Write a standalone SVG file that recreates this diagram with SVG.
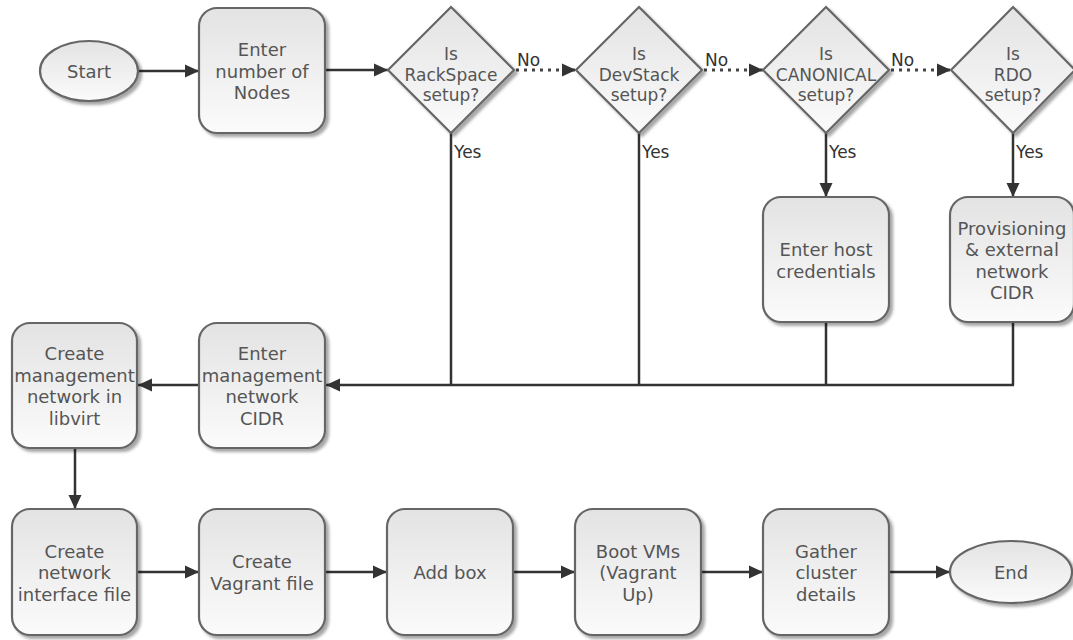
<svg xmlns="http://www.w3.org/2000/svg" width="1073" height="640" viewBox="0 0 1073 640">
<defs>
<linearGradient id="g" x1="0" y1="0" x2="0" y2="1">
<stop offset="0" stop-color="#e3e3e3"/>
<stop offset="1" stop-color="#fbfbfb"/>
</linearGradient>
<filter id="sh" x="-10%" y="-10%" width="125%" height="125%">
<feDropShadow dx="3" dy="3" stdDeviation="1.5" flood-color="#000" flood-opacity="0.35"/>
</filter>
<marker id="ah" viewBox="0 0 14 14" markerWidth="14" markerHeight="14" refX="14" refY="7" orient="auto" markerUnits="userSpaceOnUse">
<path d="M0,0.5 L14,7 L0,13.5 z" fill="#333"/>
</marker>
<style>
.n{fill:url(#g);stroke:#666;stroke-width:2.2;filter:url(#sh)}
.t{font-family:"DejaVu Sans",Verdana,sans-serif;font-size:18px;fill:#555;text-anchor:middle}
.td{font-family:"DejaVu Sans",Verdana,sans-serif;font-size:17px;fill:#555;text-anchor:middle}
.lb{font-family:"DejaVu Sans",Verdana,sans-serif;font-size:17px;fill:#333}
.c{stroke:#333;stroke-width:2.5;fill:none}
.a{marker-end:url(#ah)}
.d{stroke:#444;stroke-width:3;stroke-dasharray:3 5;fill:none}
</style>
</defs>

<g id="connectors">
<line class="c a" x1="138" y1="71" x2="199" y2="71"/>
<line class="c a" x1="325" y1="70" x2="388" y2="70"/>
<line class="d a" x1="516" y1="70" x2="576" y2="70"/>
<line class="d a" x1="704" y1="70" x2="763" y2="70"/>
<line class="d a" x1="891" y1="70" x2="951" y2="70"/>
<line class="c" x1="451" y1="133" x2="451" y2="385"/>
<line class="c" x1="639" y1="133" x2="639" y2="385"/>
<line class="c a" x1="826" y1="133" x2="826" y2="197"/>
<line class="c a" x1="1013" y1="133" x2="1013" y2="197"/>
<line class="c" x1="826" y1="322" x2="826" y2="385"/>
<line class="c" x1="1013" y1="322" x2="1013" y2="385"/>
<line class="c a" x1="1014" y1="385" x2="326" y2="385"/>
<line class="c a" x1="199" y1="385" x2="138" y2="385"/>
<line class="c a" x1="75" y1="448" x2="75" y2="509"/>
<line class="c a" x1="137" y1="572" x2="199" y2="572"/>
<line class="c a" x1="325" y1="572" x2="387" y2="572"/>
<line class="c a" x1="513" y1="572" x2="575" y2="572"/>
<line class="c a" x1="701" y1="572" x2="763" y2="572"/>
<line class="c a" x1="889" y1="572" x2="950" y2="572"/>
<text class="lb" x="517" y="66">No</text>
<text class="lb" x="705" y="66">No</text>
<text class="lb" x="891" y="66">No</text>
<text class="lb" x="454" y="158">Yes</text>
<text class="lb" x="642" y="158">Yes</text>
<text class="lb" x="829" y="158">Yes</text>
<text class="lb" x="1016" y="158">Yes</text>
</g>

<g id="start">
<ellipse class="n" cx="89" cy="71" rx="49" ry="30"/>
<text class="t" x="89" y="77.5">Start</text>
</g>

<g id="enter-nodes">
<rect class="n" x="199" y="8" width="126" height="125" rx="18"/>
<text class="t" x="262" y="56">Enter</text>
<text class="t" x="262" y="77.5">number of</text>
<text class="t" x="262" y="99">Nodes</text>
</g>

<g id="is-rackspace">
<polygon class="n" points="451,7 514,70 451,133 388,70"/>
<text class="td" x="451" y="60">Is</text>
<text class="td" x="451" y="80.5">RackSpace</text>
<text class="td" x="451" y="101">setup?</text>
</g>

<g id="is-devstack">
<polygon class="n" points="639,7 702,70 639,133 576,70"/>
<text class="td" x="639" y="60">Is</text>
<text class="td" x="639" y="80.5">DevStack</text>
<text class="td" x="639" y="101">setup?</text>
</g>

<g id="is-canonical">
<polygon class="n" points="826,7 889,70 826,133 763,70"/>
<text class="td" x="826" y="60">Is</text>
<text class="td" x="826" y="80.5">CANONICAL</text>
<text class="td" x="826" y="101">setup?</text>
</g>

<g id="is-rdo">
<polygon class="n" points="1013,7 1075,70 1013,133 951,70"/>
<text class="td" x="1013" y="60">Is</text>
<text class="td" x="1013" y="80.5">RDO</text>
<text class="td" x="1013" y="101">setup?</text>
</g>

<g id="host-credentials">
<rect class="n" x="763" y="197" width="126" height="125" rx="18"/>
<text class="t" x="826" y="256">Enter host</text>
<text class="t" x="826" y="277.5">credentials</text>
</g>

<g id="provisioning">
<rect class="n" x="950" y="197" width="124" height="125" rx="18"/>
<text class="t" x="1012" y="234.5">Provisioning</text>
<text class="t" x="1012" y="256">&amp; external</text>
<text class="t" x="1012" y="277.5">network</text>
<text class="t" x="1012" y="299">CIDR</text>
</g>

<g id="mgmt-cidr">
<rect class="n" x="199" y="323" width="126" height="125" rx="18"/>
<text class="t" x="262" y="360">Enter</text>
<text class="t" x="262" y="381.5">management</text>
<text class="t" x="262" y="403">network</text>
<text class="t" x="262" y="424.5">CIDR</text>
</g>

<g id="mgmt-network">
<rect class="n" x="12" y="323" width="125" height="125" rx="18"/>
<text class="t" x="74.5" y="360">Create</text>
<text class="t" x="74.5" y="381.5">management</text>
<text class="t" x="74.5" y="403">network in</text>
<text class="t" x="74.5" y="424.5">libvirt</text>
</g>

<g id="network-interface">
<rect class="n" x="12" y="509" width="125" height="126" rx="18"/>
<text class="t" x="74.5" y="557.5">Create</text>
<text class="t" x="74.5" y="579">network</text>
<text class="t" x="74.5" y="600.5">interface file</text>
</g>

<g id="vagrant-file">
<rect class="n" x="199" y="509" width="126" height="126" rx="18"/>
<text class="t" x="262" y="568">Create</text>
<text class="t" x="262" y="590">Vagrant file</text>
</g>

<g id="add-box">
<rect class="n" x="387" y="509" width="126" height="126" rx="18"/>
<text class="t" x="450" y="579">Add box</text>
</g>

<g id="boot-vms">
<rect class="n" x="575" y="509" width="126" height="126" rx="18"/>
<text class="t" x="638" y="557.5">Boot VMs</text>
<text class="t" x="638" y="579">(Vagrant</text>
<text class="t" x="638" y="600.5">Up)</text>
</g>

<g id="gather">
<rect class="n" x="763" y="509" width="126" height="126" rx="18"/>
<text class="t" x="826" y="557.5">Gather</text>
<text class="t" x="826" y="579">cluster</text>
<text class="t" x="826" y="600.5">details</text>
</g>

<g id="end">
<ellipse class="n" cx="1011" cy="572" rx="61" ry="31"/>
<text class="t" x="1011" y="578.5">End</text>
</g>
</svg>
